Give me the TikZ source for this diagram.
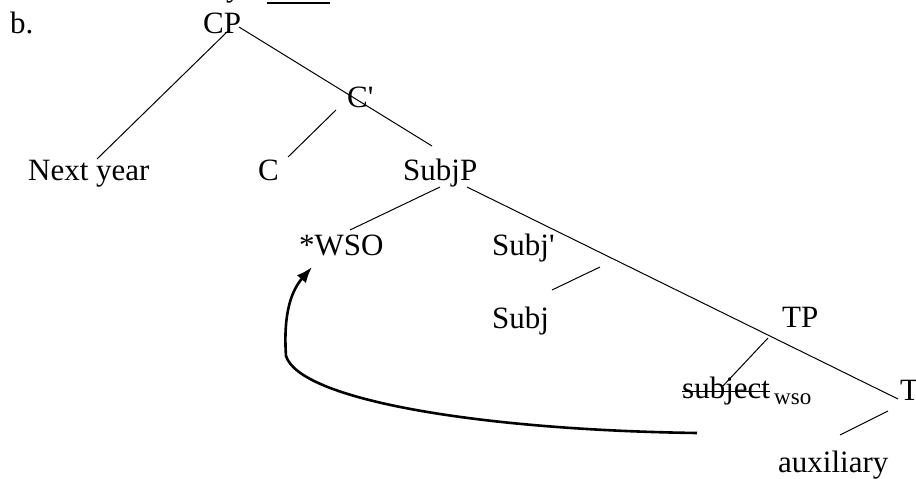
\documentclass[tikz,border=0pt]{standalone}
\usepackage{fontspec}
\newfontfamily\tnr{Liberation Serif}
\usetikzlibrary{arrows.meta}
\begin{document}
\begin{tikzpicture}[x=1pt,y=-1pt,
  lbl/.style={anchor=base west, inner sep=0pt, font=\tnr\fontsize{31}{36}\selectfont},
  sublbl/.style={anchor=base west, inner sep=0pt, font=\tnr\fontsize{23}{26}\selectfont},
  edge/.style={line width=1pt},
  move/.style={line width=2.6pt, -{Latex[length=16pt,width=12pt]}}]
\useasboundingbox (0,0) rectangle (916,479);
\clip (0,0) rectangle (916,479);
\fill[white] (0,0) rectangle (916,479);
% remnants at top
\node[lbl] (ytop) at (226,-3.5) {y};
\coordinate (ul-a) at (267,3);
\coordinate (ul-b) at (330,3);
\draw[line width=1.2pt] (ul-a) -- (ul-b);
% labels
\node[lbl] (b) at (10,33) {b.};
\node[lbl] (cp) at (203,33) {CP};
\node[lbl] (cbar) at (347,107) {C'};
\node[lbl] (next) at (28,180) {Next year};
\node[lbl] (c) at (258,180) {C};
\node[lbl] (subjp) at (403,180) {SubjP};
\node[lbl] (wso) at (299,255) {*WSO};
\node[lbl] (subjbar) at (492,255) {Subj'};
\node[lbl] (subj) at (492,328) {Subj};
\node[lbl] (tp) at (782,327) {TP};
\node[lbl] (subject) at (682,398) {subject};
\node[sublbl] (wsosub) at (774,404) {wso};
\node[lbl] (tbar) at (900,400) {T};
\node[lbl] (aux) at (778,472) {auxiliary};
% strike-through
\draw[line width=1.4pt] ([yshift=6.5pt]subject.base west) -- ([yshift=6.5pt]subject.base east);
% branch end points
\coordinate (cp-l) at (228,31);
\coordinate (next-t) at (97,159);
\coordinate (cp-r) at (239,27);
\coordinate (subjp-t) at (432,146);
\coordinate (cbar-b) at (336,110);
\coordinate (c-t) at (288,157);
\coordinate (subjp-bl) at (440,187);
\coordinate (wso-t) at (350,230);
\coordinate (subjp-br) at (467,187);
\coordinate (tbar-t) at (898,399);
\coordinate (subjbar-b) at (600,267);
\coordinate (subj-t) at (552,290);
\coordinate (tp-b) at (768,338);
\coordinate (subject-t) at (722,387);
\coordinate (tbar-b) at (888,411);
\coordinate (aux-t) at (840,435);
\draw[edge] (cp-l) -- (next-t);
\draw[edge] (cp-r) -- (subjp-t);
\draw[edge] (cbar-b) -- (c-t);
\draw[edge] (subjp-bl) -- (wso-t);
\draw[edge] (subjp-br) -- (tbar-t);
\draw[edge] (subjbar-b) -- (subj-t);
\draw[edge] (tp-b) -- (subject-t);
\draw[edge] (tbar-b) -- (aux-t);
% movement arrow
\coordinate (mv-start) at (697,433);
\coordinate (mv-bend) at (286,356);
\coordinate (mv-end) at (312,267);
\draw[move] (mv-start) .. controls (480,430) and (300,400) .. (mv-bend)
  .. controls (283,312) and (292,290) .. (mv-end);
\end{tikzpicture}
\end{document}
